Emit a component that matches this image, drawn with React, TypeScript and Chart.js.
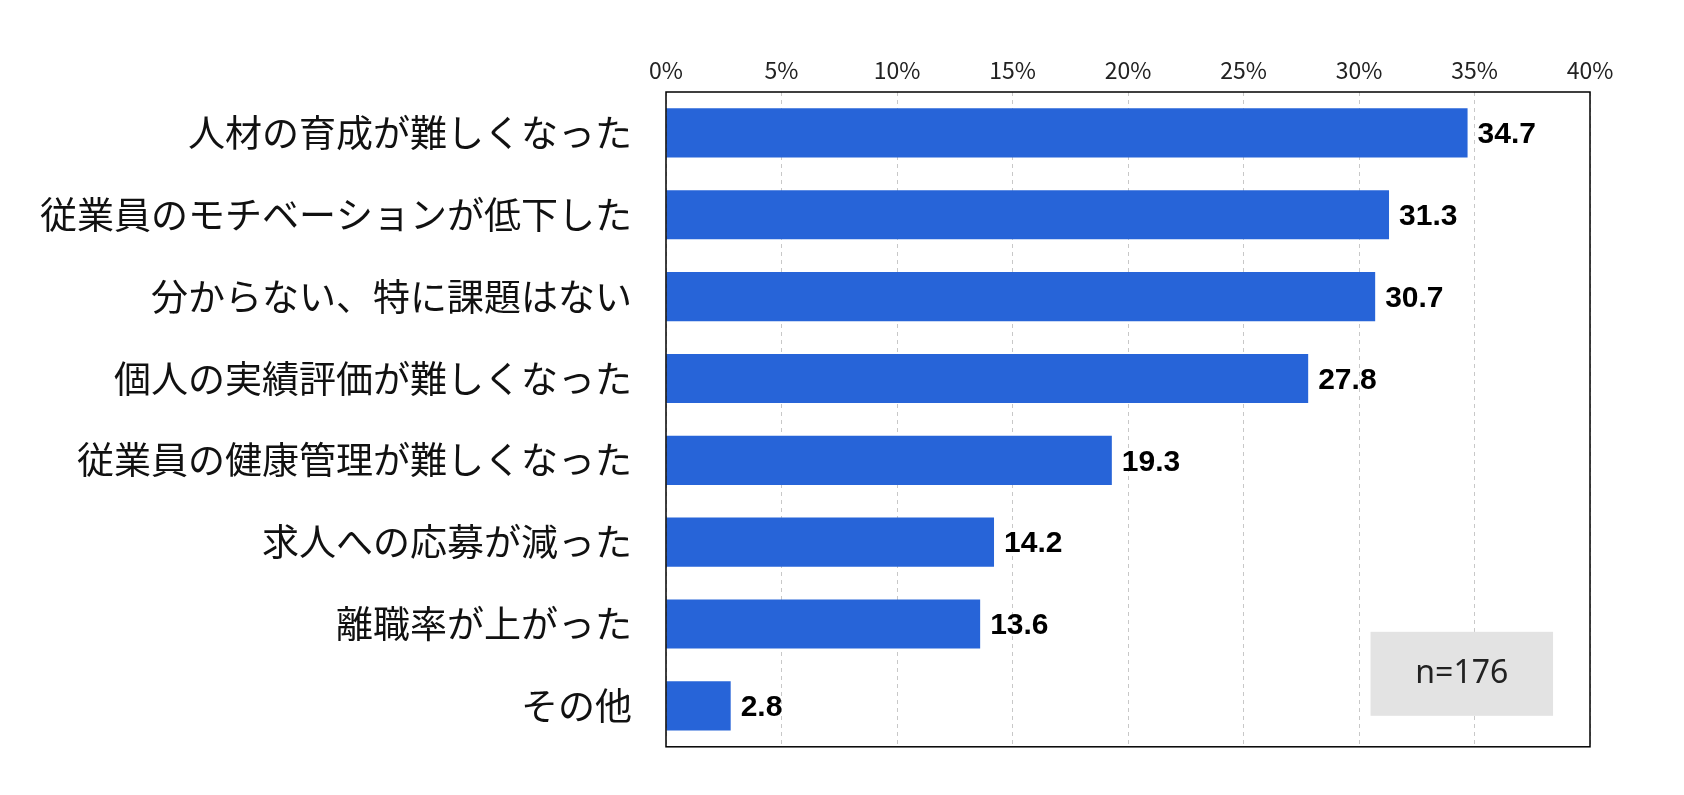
import React, { useEffect, useRef } from "react";
import { Chart, registerables } from "chart.js";
Chart.register(...registerables);

const categories = [
  "人材の育成が難しくなった",
  "従業員のモチベーションが低下した",
  "分からない、特に課題はない",
  "個人の実績評価が難しくなった",
  "従業員の健康管理が難しくなった",
  "求人への応募が減った",
  "離職率が上がった",
  "その他",
];
const values = [34.7, 31.3, 30.7, 27.8, 19.3, 14.2, 13.6, 2.8];
const sampleNote = "n=176";

const FONT = "'Noto Sans CJK JP', 'Liberation Sans', sans-serif";

const overlay = {
  id: "overlay",
  afterDatasetsDraw(chart: any) {
    const { ctx, chartArea: a } = chart;
    const meta = chart.getDatasetMeta(0);
    ctx.save();
    ctx.font = "bold 30px 'Liberation Sans', Arial, sans-serif";
    ctx.fillStyle = "#000";
    ctx.textBaseline = "middle";
    ctx.textAlign = "left";
    meta.data.forEach((bar: any, i: number) => {
      ctx.fillText(values[i].toFixed(1), bar.x + 10, bar.y + 2);
    });
    const bx = chart.scales.x.getPixelForValue(30.5);
    const bw = chart.scales.x.getPixelForValue(38.4) - bx;
    ctx.fillStyle = "#e3e3e3";
    ctx.fillRect(bx, a.bottom - 115, bw, 84);
    ctx.fillStyle = "#222";
    ctx.textAlign = "center";
    ctx.font = "32px 'Noto Sans', sans-serif";
    ctx.fillText(sampleNote, bx + bw / 2, a.bottom - 73);
    ctx.strokeStyle = "#000";
    ctx.lineWidth = 1.5;
    ctx.strokeRect(a.left, a.top, a.right - a.left, a.bottom - a.top);
    ctx.restore();
  },
};

export default function App() {
  const ref = useRef<HTMLCanvasElement>(null);
  useEffect(() => {
    document.body.style.margin = "0";
    const chart = new Chart(ref.current!, {
      type: "bar",
      data: {
        labels: categories,
        datasets: [{ data: values, backgroundColor: "#2764d8", barPercentage: 0.6, categoryPercentage: 1 }],
      },
      options: {
        indexAxis: "y",
        animation: false,
        responsive: false,
        layout: { padding: { top: 30, right: 94, bottom: 34, left: 0 } },
        plugins: { legend: { display: false }, tooltip: { enabled: false } },
        scales: {
          x: {
            position: "top",
            min: 0,
            max: 40,
            ticks: { stepSize: 5, callback: (v: any) => v + "%", color: "#222", font: { size: 23, family: FONT }, padding: 8 },
            grid: { color: "#c8c8c8", drawTicks: false },
            border: { display: false, dash: [4, 4] },
            afterFit: (s: any) => { s.height = 62; },
          },
          y: {
            ticks: { color: "#111", font: { size: 37, family: FONT }, padding: 26 },
            grid: { display: false },
            border: { display: false },
            afterFit: (s: any) => { s.width = 666; },
          },
        },
      },
      plugins: [overlay],
    } as any);
    return () => chart.destroy();
  }, []);
  return <canvas ref={ref} width={1684} height={795} style={{ display: "block" }} />;
}
